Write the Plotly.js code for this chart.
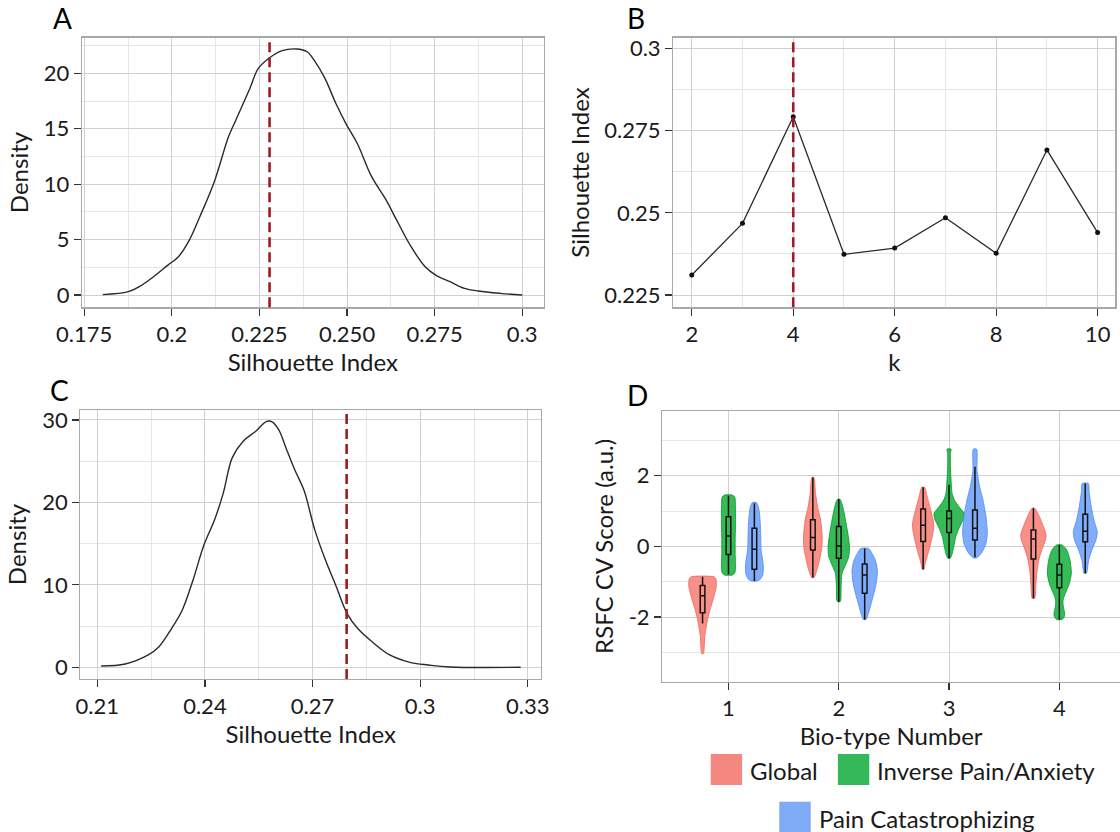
<!DOCTYPE html>
<html>
<head>
<meta charset="utf-8">
<script src="https://cdn.plot.ly/plotly-3.0.1.min.js"></script>
<style>
  html, body { margin: 0; padding: 0; background: #ffffff; }
  #chart { width: 1120px; height: 832px; }
</style>
</head>
<body>
<div id="chart"></div>
<script>
// ---------------- DATA ----------------
// Panel A: density of silhouette index (null distribution 1)
const densAx = [0.1803,0.1876,0.1907,0.1948,0.1989,0.2019,0.2050,0.2080,0.2121,0.2162,0.2183,0.2223,0.2246,0.2281,0.2315,0.2356,0.2386,0.2406,0.2437,0.2468,0.2498,0.2529,0.2570,0.2611,0.2641,0.2682,0.2723,0.2753,0.2794,0.2835,0.2875,0.2937,0.3000];
const densAy = [0.03,0.3,0.75,1.65,2.7,3.46,4.96,7.07,10.2,14.3,15.8,18.65,20.4,21.45,22.05,22.2,21.95,21.2,19.55,17.3,15.4,13.7,10.7,8.6,6.8,4.4,2.55,1.8,1.2,0.6,0.36,0.15,0];
const refA = 0.2279;
const tickValsAx = [0.175,0.2,0.225,0.25,0.275,0.3];
const tickTextAx = ["0.175","0.2","0.225","0.250","0.275","0.3"];

// Panel B: silhouette index by k
const kVals = [2,3,4,5,6,7,8,9,10];
const silVals = [0.2311,0.2468,0.2792,0.2374,0.2393,0.2485,0.2377,0.2691,0.2440];
const bestK = 4;
const tickValsBy = [0.225,0.25,0.275,0.3];
const tickTextBy = ["0.225","0.25","0.275","0.3"];

// Panel C: density of silhouette index (null distribution 2)
const densCx = [0.2111,0.2178,0.2242,0.2272,0.2307,0.2337,0.2367,0.2397,0.2427,0.2451,0.2476,0.2506,0.2541,0.2571,0.2586,0.2606,0.2626,0.2651,0.2676,0.2706,0.2736,0.2766,0.2796,0.2826,0.2866,0.2915,0.2974,0.3023,0.3083,0.3280];
const densCy = [0.16,0.4,1.5,2.5,4.7,6.95,10.6,14.8,17.9,21.1,25.4,27.4,28.6,29.8,29.8,28.8,26.6,23.9,21.5,16.7,13.0,9.8,6.55,4.7,3.1,1.5,0.57,0.28,0.04,0];
const refC = 0.2795;
const tickValsCx = [0.21,0.24,0.27,0.3,0.33];
const tickTextCx = ["0.21","0.24","0.27","0.3","0.33"];

// Panel D: RSFC CV scores by bio-type (violin profiles: level, relative width)
const bioTypes = [1,2,3,4];
const bioTypeLabels = ["1","2","3","4"];
const tickValsDy = [-2,0,2];
const tickTextDy = ["-2","0","2"];
const seriesNames = ["Global","Inverse Pain/Anxiety","Pain Catastrophizing"];

const globalLevels = [
  [-0.86,-0.92,-1.14,-1.52,-1.90,-2.27,-2.56,-2.84,-3.03],
  [1.95,1.50,1.12,0.75,0.27,-0.01,-0.29,-0.58,-0.76,-0.88],
  [1.67,1.41,1.12,0.75,0.56,0.27,-0.01,-0.29,-0.53,-0.65],
  [1.08,0.84,0.56,0.32,0.18,-0.10,-0.39,-0.76,-1.14,-1.47]
];
const globalWidths = [
  [34,40,41,31,19,11,6.5,5,3],
  [3,8,14,23,28,27,22,15,9,4],
  [4,12,20,30,32,27,20,12,5,3],
  [4,18,30,38,36,25,16,10,7,4]
];
const inverseLevels = [
  [1.45,1.39,1.12,0.56,0.18,-0.20,-0.58,-0.75,-0.81],
  [1.33,1.12,0.75,0.37,-0.01,-0.29,-0.53,-0.76,-1.14,-1.52,-1.57],
  [2.75,2.63,2.25,1.88,1.50,1.31,1.12,0.93,0.75,0.56,0.27,-0.01,-0.25,-0.34],
  [0.04,-0.10,-0.39,-0.76,-1.05,-1.33,-1.52,-1.71,-1.90,-1.99,-2.07]
];
const inverseWidths = [
  [12,19,21,21,20,20,21,19,12],
  [4,12,20,27,32,30,20,10,7,6,3],
  [6,4,4,6,9,16,30,45,42,32,20,14,8,3],
  [8,22,32,36,30,18,11,12,16,15,8]
];
const painLevels = [
  [1.24,1.12,0.75,0.27,-0.10,-0.39,-0.62,-0.81,-0.93,-0.98],
  [-0.06,-0.20,-0.39,-0.67,-0.95,-1.24,-1.52,-1.80,-1.99,-2.07],
  [2.75,2.16,1.69,1.31,0.84,0.37,0.08,-0.15,-0.29,-0.33],
  [1.78,1.50,1.12,0.74,0.41,0.18,-0.10,-0.39,-0.67,-0.76]
];
const painWidths = [
  [6,12,17,19,20,25,27,25,18,8],
  [12,22,32,38,36,30,22,14,8,4],
  [5,6,14,24,33,37,33,22,10,3],
  [9,12,18,26,36,32,20,10,6,4]
];

// Box summaries
const globalQ1 = [-1.88,-0.10,0.14,-0.36];
const globalMed = [-1.40,0.25,0.60,0.21];
const globalQ3 = [-1.11,0.75,1.06,0.46];
const globalLo = [-2.18,-0.88,-0.65,-1.47];
const globalHi = [-0.86,1.95,1.67,1.08];
const inverseQ1 = [-0.23,-0.34,0.39,-1.17];
const inverseMed = [0.29,0.01,0.79,-0.81];
const inverseQ3 = [0.84,0.56,1.00,-0.51];
const inverseLo = [-0.79,-1.57,-0.34,-2.07];
const inverseHi = [1.43,1.33,1.74,0.04];
const painQ1 = [-0.65,-1.33,0.18,0.13];
const painMed = [-0.08,-0.81,0.51,0.43];
const painQ3 = [0.51,-0.50,1.03,0.91];
const painLo = [-0.98,-2.07,-0.31,-0.76];
const painHi = [1.22,-0.06,2.25,1.78];

// ---------------- STYLE ----------------
const W = 1120, H = 832;
const px = v => v / W;
const py = v => 1 - v / H;
const FONT = "Lato, 'Open Sans', sans-serif";
const TXT = "#1a1a1a";
const DASHRED = "#9b1d22";
const fills = ["rgba(246,120,110,0.82)","rgba(20,175,60,0.85)","rgba(100,155,250,0.82)"];
const edges = ["rgba(240,110,100,0.9)","rgba(10,160,50,0.9)","rgba(90,145,240,0.9)"];
const swatch = ["#f4877f","#35b85a","#7eaaf6"];
const dodge = [-0.235, 0, 0.235];
const widthScale = 1 / 330.6;   // relative width -> axis units
const tickFont = {family: FONT, size: 22, color: TXT};
const titleFont = {family: FONT, size: 24, color: TXT};
const letterFont = {family: FONT, size: 28, color: "#000"};

function axisBase(extra) {
  return Object.assign({
    showline: true, linecolor: "#a8a8a8", linewidth: 1.3, mirror: true,
    ticks: "outside", ticklen: 7, tickwidth: 1.3, tickcolor: "#333",
    showgrid: true, gridcolor: "#d0d0d0", gridwidth: 1,
    zeroline: false, automargin: false, tickfont: tickFont, fixedrange: true
  }, extra);
}
const minorGrid = (t0, dt) => ({tick0: t0, dtick: dt, showgrid: true, gridcolor: "#e6e6e6", gridwidth: 1, ticks: ""});

// ---------------- TRACES ----------------
const traces = [];
traces.push({type: "scatter", mode: "lines", x: densAx, y: densAy, xaxis: "x", yaxis: "y",
  line: {color: "#2a2a2a", width: 1.4, shape: "spline"}, showlegend: false});
traces.push({type: "scatter", mode: "lines+markers", x: kVals, y: silVals, xaxis: "x2", yaxis: "y2",
  line: {color: "#2a2a2a", width: 1.3}, marker: {color: "#111", size: 5}, showlegend: false});
traces.push({type: "scatter", mode: "lines", x: densCx, y: densCy, xaxis: "x3", yaxis: "y3",
  line: {color: "#2a2a2a", width: 1.4, shape: "spline"}, showlegend: false});

const levelSets = [globalLevels, inverseLevels, painLevels];
const widthSets = [globalWidths, inverseWidths, painWidths];
for (let g = 0; g < 3; g++) {
  for (let c = 0; c < bioTypes.length; c++) {
    const center = bioTypes[c] + dodge[g];
    const ys = levelSets[g][c], ws = widthSets[g][c];
    const X = [], Y = [];
    for (let i = 0; i < ys.length; i++) { X.push(center + ws[i] * widthScale); Y.push(ys[i]); }
    for (let i = ys.length - 1; i >= 0; i--) { X.push(center - ws[i] * widthScale); Y.push(ys[i]); }
    X.push(X[0]); Y.push(Y[0]);
    traces.push({type: "scatter", mode: "lines", x: X, y: Y, xaxis: "x4", yaxis: "y4",
      fill: "toself", fillcolor: fills[g], line: {color: edges[g], width: 1, shape: "spline", smoothing: 0.6},
      name: seriesNames[g], showlegend: false});
  }
}
const boxStats = [
  [globalQ1, globalMed, globalQ3, globalLo, globalHi],
  [inverseQ1, inverseMed, inverseQ3, inverseLo, inverseHi],
  [painQ1, painMed, painQ3, painLo, painHi]
];
// boxes on an overlaying subplot so they are drawn above the violins
for (let g = 0; g < 3; g++) {
  const s = boxStats[g];
  traces.push({type: "box", x: bioTypes.map(b => b + dodge[g]), q1: s[0], median: s[1], q3: s[2],
    lowerfence: s[3], upperfence: s[4], xaxis: "x5", yaxis: "y5", width: 0.042, whiskerwidth: 0,
    fillcolor: "rgba(0,0,0,0)", line: {color: "#111", width: 1.5}, boxpoints: false,
    name: seriesNames[g], showlegend: false});
}

// ---------------- LAYOUT ----------------
const domA = {x: [px(82.1), px(543.6)], y: [py(307.3), py(37.7)]};
const domB = {x: [px(673.3), px(1115.4)], y: [py(307.3), py(37.7)]};
const domC = {x: [px(80.4), px(541.1)], y: [py(679), py(410)]};
const domD = {x: [px(662.3), 1], y: [py(681.7), py(411)]};
const rangeDx = [0.4, 4.55], rangeDy = [-3.83, 3.83];

const layout = {
  width: W, height: H, margin: {l: 0, r: 0, t: 0, b: 0},
  paper_bgcolor: "#ffffff", plot_bgcolor: "#ffffff", showlegend: false,
  font: {family: FONT, color: TXT},
  xaxis: axisBase({domain: domA.x, anchor: "y", range: [0.1744, 0.3061],
    tickmode: "array", tickvals: tickValsAx, ticktext: tickTextAx,
    minor: minorGrid(0.1875, 0.025),
    title: {text: "Silhouette Index", font: titleFont, standoff: 4}}),
  yaxis: axisBase({domain: domA.y, anchor: "x", range: [-1.11, 23.22],
    tickmode: "array", tickvals: [0,5,10,15,20],
    minor: minorGrid(2.5, 5),
    title: {text: "Density", font: titleFont, standoff: 8}}),
  xaxis2: axisBase({domain: domB.x, anchor: "y2", range: [1.636, 10.35],
    tickmode: "array", tickvals: [2,4,6,8,10],
    minor: minorGrid(3, 2),
    title: {text: "k", font: titleFont, standoff: 4}}),
  yaxis2: axisBase({domain: domB.y, anchor: "x2", range: [0.2213, 0.3032],
    tickmode: "array", tickvals: tickValsBy, ticktext: tickTextBy,
    minor: minorGrid(0.2375, 0.025),
    title: {text: "Silhouette Index", font: titleFont, standoff: 8}}),
  xaxis3: axisBase({domain: domC.x, anchor: "y3", range: [0.2053, 0.3337],
    tickmode: "array", tickvals: tickValsCx, ticktext: tickTextCx,
    minor: minorGrid(0.225, 0.03),
    title: {text: "Silhouette Index", font: titleFont, standoff: 4}}),
  yaxis3: axisBase({domain: domC.y, anchor: "x3", range: [-1.42, 31.21],
    tickmode: "array", tickvals: [0,10,20,30],
    minor: minorGrid(5, 10),
    title: {text: "Density", font: titleFont, standoff: 8}}),
  xaxis4: axisBase({domain: domD.x, anchor: "y4", range: rangeDx,
    tickmode: "array", tickvals: bioTypes, ticktext: bioTypeLabels,
    title: {text: "Bio-type Number", font: titleFont, standoff: 4}}),
  yaxis4: axisBase({domain: domD.y, anchor: "x4", range: rangeDy, mirror: false,
    tickmode: "array", tickvals: tickValsDy, ticktext: tickTextDy,
    minor: minorGrid(-3, 2),
    title: {text: "RSFC CV Score (a.u.)", font: titleFont, standoff: 8}}),
  xaxis5: {overlaying: "x4", anchor: "y5", range: rangeDx, visible: false, fixedrange: true},
  yaxis5: {overlaying: "y4", anchor: "x5", range: rangeDy, visible: false, fixedrange: true},
  shapes: [
    {type: "line", xref: "x", yref: "y domain", x0: refA, x1: refA, y0: 0, y1: 1,
      line: {color: DASHRED, width: 2.6, dash: "10px,5px"}},
    {type: "line", xref: "x2", yref: "y2 domain", x0: bestK, x1: bestK, y0: 0, y1: 1,
      line: {color: DASHRED, width: 2.6, dash: "10px,5px"}},
    {type: "line", xref: "x3", yref: "y3 domain", x0: refC, x1: refC, y0: 0, y1: 1,
      line: {color: DASHRED, width: 2.6, dash: "10px,5px"}},
    // manual legend swatches
    {type: "rect", xref: "paper", yref: "paper", x0: px(710.7), x1: px(742.1), y0: py(785), y1: py(754),
      fillcolor: swatch[0], line: {width: 0}},
    {type: "rect", xref: "paper", yref: "paper", x0: px(837.9), x1: px(869.3), y0: py(785), y1: py(754),
      fillcolor: swatch[1], line: {width: 0}},
    {type: "rect", xref: "paper", yref: "paper", x0: px(779.3), x1: px(810.7), y0: py(834), y1: py(801.7),
      fillcolor: swatch[2], line: {width: 0}}
  ],
  annotations: [
    {text: "A", xref: "paper", yref: "paper", x: px(62), y: py(18), xanchor: "center", yanchor: "middle", showarrow: false, font: letterFont},
    {text: "B", xref: "paper", yref: "paper", x: px(636), y: py(18), xanchor: "center", yanchor: "middle", showarrow: false, font: letterFont},
    {text: "C", xref: "paper", yref: "paper", x: px(59), y: py(390), xanchor: "center", yanchor: "middle", showarrow: false, font: letterFont},
    {text: "D", xref: "paper", yref: "paper", x: px(637), y: py(395), xanchor: "center", yanchor: "middle", showarrow: false, font: letterFont},
    {text: seriesNames[0], xref: "paper", yref: "paper", x: px(748), y: py(770), xanchor: "left", yanchor: "middle", showarrow: false, font: titleFont},
    {text: seriesNames[1], xref: "paper", yref: "paper", x: px(875), y: py(770), xanchor: "left", yanchor: "middle", showarrow: false, font: titleFont},
    {text: seriesNames[2], xref: "paper", yref: "paper", x: px(817), y: py(818), xanchor: "left", yanchor: "middle", showarrow: false, font: titleFont}
  ]
};

Plotly.newPlot("chart", traces, layout, {staticPlot: true, displayModeBar: false});
</script>
</body>
</html>
